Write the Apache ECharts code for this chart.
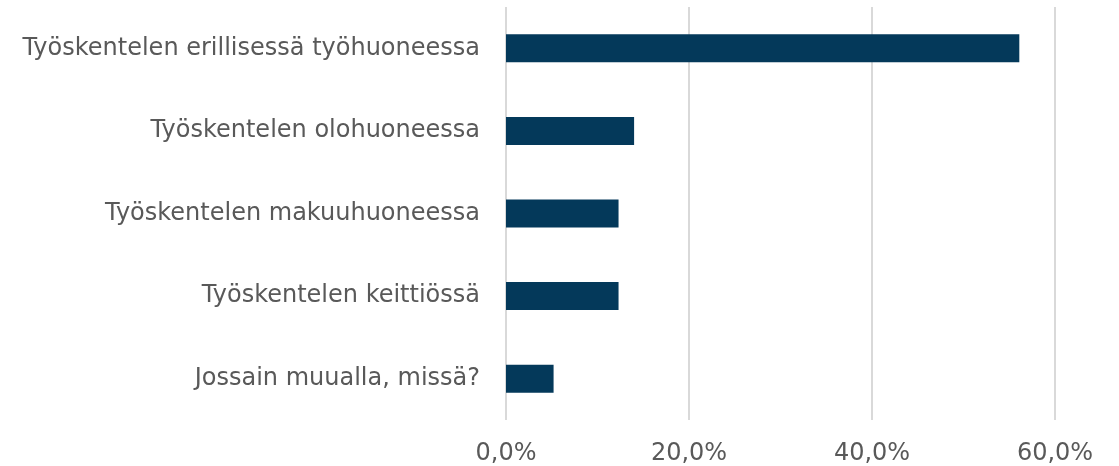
<!DOCTYPE html>
<html lang="fi">
<head>
	<meta charset="UTF-8">
	<title>Työskentelypaikka</title>
	<script src="https://cdn.jsdelivr.net/npm/echarts@6/dist/echarts.min.js"></script>
	<style>
		html, body { margin: 0; padding: 0; background: #fff; }
	</style>
</head>
<body>
	<div id="main" style="width: 1119px;height:466px;"></div>
<script type="text/javascript">
	// kategoriat ylhäältä alas
	var categories = [
		'Työskentelen erillisessä työhuoneessa',
		'Työskentelen olohuoneessa',
		'Työskentelen makuuhuoneessa',
		'Työskentelen keittiössä',
		'Jossain muualla, missä?'
	];
	var values = [56.1, 14.0, 12.3, 12.3, 5.2];
	var xTicks = [0, 20, 40, 60];

	var myChart = echarts.init(document.getElementById('main'));

	function fmt(v) {
		return v.toFixed(1).replace('.', ',') + '%';
	}

	myChart.setOption({
		animation: false,
		grid: {
			left: 506,
			right: 64,
			top: 7,
			bottom: 46
		},
		xAxis: {
			type: 'value',
			min: xTicks[0],
			max: xTicks[xTicks.length - 1],
			interval: 20,
			axisLine: { show: false },
			axisTick: { show: false },
			splitLine: { lineStyle: { color: '#d9d9d9', width: 2 } },
			axisLabel: {
				formatter: fmt,
				color: '#595959',
				fontFamily: 'DejaVu Sans',
				fontSize: 24,
				margin: 22
			}
		},
		yAxis: {
			type: 'category',
			inverse: true,
			data: categories,
			axisLine: { show: false },
			axisTick: { show: false },
			axisLabel: {
				color: '#595959',
				fontFamily: 'DejaVu Sans',
				fontSize: 24,
				margin: 26
			}
		},
		series: [{
			type: 'bar',
			data: values,
			barWidth: 28,
			itemStyle: { color: '#04395a' }
		}]
	});
</script>
</body>
</html>
